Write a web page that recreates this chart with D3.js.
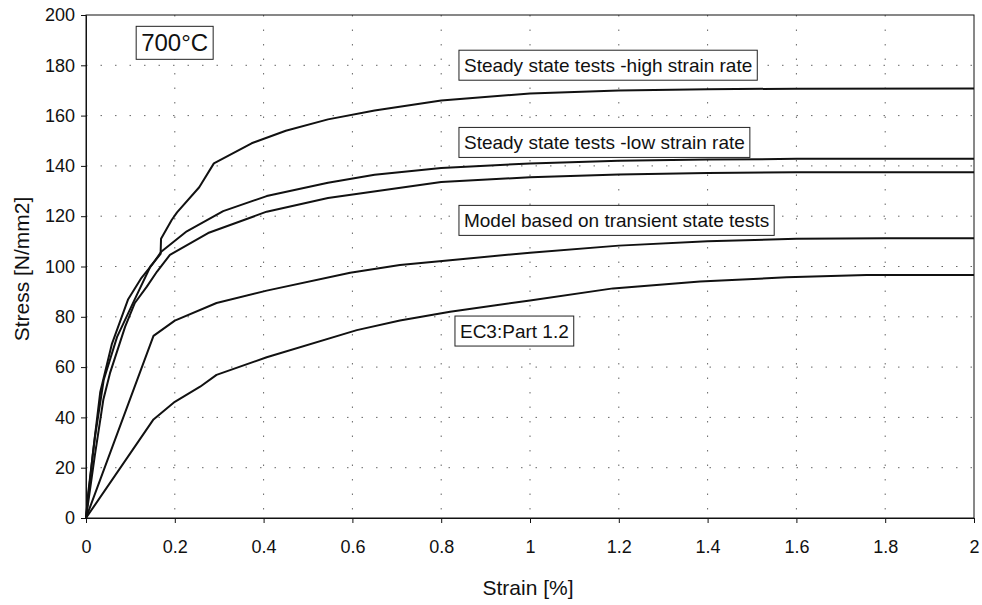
<!DOCTYPE html>
<html>
<head>
<meta charset="utf-8">
<script src="https://cdn.jsdelivr.net/npm/d3@7"></script>
<style>
  body { margin: 0; background: #fff; }
  svg { font-family: "Liberation Sans", Arial, sans-serif; }
</style>
</head>
<body>
<div class="plot1"></div>
<script>
// axis ticks
var x_ticks = [0, 0.2, 0.4, 0.6, 0.8, 1, 1.2, 1.4, 1.6, 1.8, 2];
var y_ticks = [0, 20, 40, 60, 80, 100, 120, 140, 160, 180, 200];

// curves: [strain %, stress N/mm2]
var high_rate = [[0,0],[0.005,10],[0.02,32],[0.04,55],[0.07,72],[0.11,87],[0.145,100],[0.168,105],
  [0.169,111],[0.193,118.5],[0.205,121.5],[0.255,131.5],[0.288,141],[0.373,149],[0.45,154],
  [0.545,158.5],[0.65,162],[0.8,166],[1.0,168.8],[1.2,170],[1.4,170.5],[1.6,170.7],[2.0,170.8]];
var low_rate = [[0,0],[0.015,25],[0.032,50],[0.058,69],[0.095,87],[0.125,95.5],[0.148,100.5],
  [0.17,106],[0.227,114],[0.309,122],[0.407,128],[0.545,133.3],[0.65,136.5],[0.8,139.2],
  [1.0,141],[1.2,142],[1.4,142.5],[1.6,142.8],[2.0,142.8]];
var transient = [[0,0],[0.02,25],[0.039,47],[0.054,57.6],[0.088,76],[0.11,85.5],[0.137,92],
  [0.16,98],[0.189,104.6],[0.275,113.3],[0.407,121.8],[0.545,127.2],[0.8,133.6],[1.0,135.5],
  [1.2,136.6],[1.4,137.2],[1.6,137.5],[2.0,137.5]];
var curve_111 = [[0,0],[0.152,72.4],[0.2,78.5],[0.294,85.5],[0.407,90.4],[0.595,97.5],[0.707,100.6],
  [0.82,102.5],[1.0,105.5],[1.2,108.3],[1.4,110],[1.6,111],[1.8,111.2],[2.0,111.2]];
var ec3 = [[0,0],[0.152,39.2],[0.2,46.2],[0.257,52.2],[0.294,56.9],[0.407,63.9],[0.61,74.7],
  [0.707,78.5],[0.82,82],[1.0,86.5],[1.187,91.3],[1.383,94],[1.578,95.7],[1.758,96.6],[2.0,96.6]];

var curves = [high_rate, low_rate, transient, curve_111, ec3];

// boxed notes, anchored at (strain, stress) of the box's top-left corner
var note_text = ["700°C", "Steady state tests -high strain rate", "Steady state tests -low strain rate",
  "Model based on transient state tests", "EC3:Part 1.2"];
var note_x = [0.113, 0.84, 0.84, 0.84, 0.831];
var note_y = [195.5, 186, 155.3, 124.3, 80.3];

var width = 982, height = 605;
var margin = {top: 15, right: 8, bottom: 87, left: 86};
var w = width - margin.left - margin.right;
var h = height - margin.top - margin.bottom;

var svg = d3.select(".plot1")
  .append("svg")
  .attr("width", width)
  .attr("height", height);

var area = svg.append("g")
  .attr("transform", "translate(" + margin.left + "," + margin.top + ")");

var x = d3.scaleLinear().domain([0, 2]).range([0, w]);
var y = d3.scaleLinear().domain([0, 200]).range([h, 0]);

// dotted grid (sparse dots, as in the scan)
area.append("g").selectAll("line")
  .data(x_ticks.slice(1, -1))
  .enter().append("line")
  .attr("x1", d => x(d)).attr("x2", d => x(d))
  .attr("y1", 0).attr("y2", h)
  .attr("stroke", "#666").attr("stroke-width", 1)
  .attr("stroke-dasharray", "1.5,13");

area.append("g").selectAll("line")
  .data(y_ticks.slice(1, -1))
  .enter().append("line")
  .attr("x1", 0).attr("x2", w)
  .attr("y1", d => y(d)).attr("y2", d => y(d))
  .attr("stroke", "#666").attr("stroke-width", 1)
  .attr("stroke-dasharray", "1.5,13");

// frame
area.append("rect")
  .attr("width", w).attr("height", h)
  .attr("fill", "none").attr("stroke", "#111").attr("stroke-width", 1);

// axes
var xAxis = area.append("g")
  .attr("transform", "translate(0," + h + ")")
  .call(d3.axisBottom(x).tickValues(x_ticks).tickSize(5).tickPadding(17).tickFormat(d3.format("")));
var yAxis = area.append("g")
  .call(d3.axisLeft(y).tickValues(y_ticks).tickSize(5).tickPadding(6));

[xAxis, yAxis].forEach(function(a) {
  a.select(".domain").attr("stroke", "#111");
  a.selectAll(".tick line").attr("stroke", "#111");
  a.selectAll("text")
    .attr("font-family", "Liberation Sans, Arial, sans-serif")
    .attr("font-size", "18px")
    .attr("fill", "#111");
});

// curves
var line = d3.line().x(d => x(d[0])).y(d => y(d[1]));
area.append("g").selectAll("path")
  .data(curves)
  .enter().append("path")
  .attr("d", line)
  .attr("fill", "none")
  .attr("stroke", "#111")
  .attr("stroke-width", 2)
  .attr("stroke-linejoin", "round");

// notes
var notes = note_text.map((t, i) => ({text: t, sx: note_x[i], sy: note_y[i], big: i == 0}));
var ng = area.append("g").selectAll("g")
  .data(notes)
  .enter().append("g")
  .attr("transform", d => "translate(" + x(d.sx) + "," + y(d.sy) + ")");

ng.append("text")
  .attr("x", d => d.big ? 5 : 5)
  .attr("y", d => d.big ? 25 : 22)
  .attr("font-size", d => d.big ? "24px" : "19px")
  .attr("fill", "#111")
  .text(d => d.text);

ng.insert("rect", "text")
  .each(function(d) {
    var bb = this.parentNode.querySelector("text").getBBox();
    d3.select(this)
      .attr("x", 0).attr("y", 0)
      .attr("width", bb.x + bb.width + 5)
      .attr("height", d.big ? 33 : 30);
  })
  .attr("fill", "#fff")
  .attr("stroke", "#222")
  .attr("stroke-width", 1);

// axis titles
svg.append("text")
  .attr("x", margin.left + w / 2 - 2)
  .attr("y", 595)
  .attr("text-anchor", "middle")
  .attr("font-size", "21px")
  .attr("fill", "#111")
  .text("Strain [%]");

svg.append("text")
  .attr("transform", "translate(29," + 269 + ") rotate(-90)")
  .attr("text-anchor", "middle")
  .attr("font-size", "21px")
  .attr("fill", "#111")
  .text("Stress [N/mm2]");
</script>
</body>
</html>
